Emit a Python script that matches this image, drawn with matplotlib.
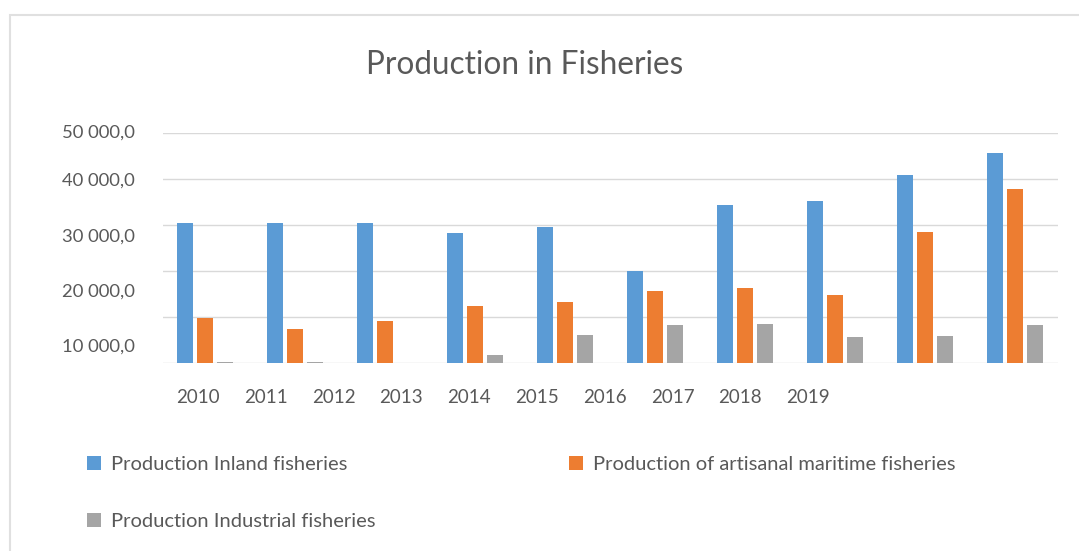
import numpy as np
import matplotlib
matplotlib.use("Agg")
import matplotlib.pyplot as plt
from matplotlib.patches import Rectangle

plt.rcParams['font.family'] = ['Lato', 'DejaVu Sans']

# production per year (tonnes)
years = ["2010", "2011", "2012", "2013", "2014", "2015", "2016", "2017", "2018", "2019"]
inland = [30500, 30500, 30500, 28200, 29600, 20100, 34400, 35300, 40900, 45700]
artisanal = [9800, 7300, 9200, 12500, 13300, 15700, 16200, 14800, 28500, 37800]
industrial = [150, 150, 100, 1700, 6100, 8300, 8400, 5700, 5900, 8300]

series_names = ["Production Inland fisheries",
                "Production of artisanal maritime fisheries",
                "Production Industrial fisheries"]
y_labels = ["50 000,0", "40 000,0", "30 000,0", "20 000,0", "10 000,0"]

colors = ["#5B9BD5", "#ED7D31", "#A5A5A5"]
text_col = "#595959"
grid_col = "#D9D9D9"

W, H = 1079, 551
fig = plt.figure(figsize=(W / 100, H / 100), dpi=100)
fig.patch.set_facecolor("white")

# chart frame (only the top and left edges are inside the canvas)
fig.patches.append(Rectangle((10 / W, -0.2), 1.2, 1.2 - 14.5 / H, transform=fig.transFigure,
                             fill=False, edgecolor="#E0E0E0", linewidth=1.5))

ax = fig.add_axes([163 / W, 1 - 363 / H, 895 / W, 230 / H])

x = np.arange(len(years))
bw = 0.172
off = 0.222
bars = []
for k, vals in enumerate([inland, artisanal, industrial]):
    bars.append(ax.bar(x + (k - 1) * off, vals, width=bw, color=colors[k], linewidth=0, zorder=3))

ax.set_xlim(-0.467, 9.478)
ax.set_ylim(0, 50000)
ax.set_yticks(np.arange(0, 50001, 10000))
ax.yaxis.grid(True, color=grid_col, linewidth=1.0, zorder=0)
ax.set_xticks([])
ax.tick_params(axis="y", length=0, labelleft=False)
for s in ax.spines.values():
    s.set_visible(False)

# category labels and value labels sit at their own spacing under/left of the plot
for lab, xf in zip(years, np.linspace(0.0391, 0.7207, len(years))):
    ax.text(xf, -0.148, lab, transform=ax.transAxes, ha="center", va="center",
            fontsize=13.5, color=text_col)
for lab, yf in zip(y_labels, [1.0, 0.791, 0.548, 0.309, 0.070]):
    ax.text(-0.0313, yf, lab, transform=ax.transAxes, ha="right", va="center",
            fontsize=13.3, color=text_col)

fig.text(525 / W, 1 - 65 / H, "Production in Fisheries", ha="center", va="center",
         fontsize=22.7, color=text_col)

handles = [bars[0], bars[2], bars[1]]
labels = [series_names[0], series_names[2], series_names[1]]
fig.legend(handles, labels, ncol=2, loc="upper left", bbox_to_anchor=(87 / W, 1 - 456 / H),
           frameon=False, fontsize=14.5, handlelength=0.7, handleheight=0.7,
           handletextpad=0.5, columnspacing=9.6, labelspacing=1.96, borderpad=0,
           borderaxespad=0, labelcolor=text_col)

fig.savefig("out.png", dpi=100, facecolor="white")
